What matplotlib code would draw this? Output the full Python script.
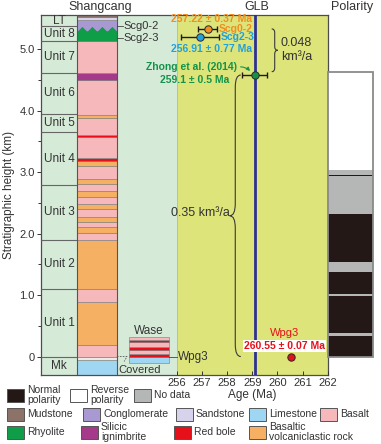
import matplotlib
matplotlib.use('Agg')
import matplotlib.pyplot as plt
import numpy as np
from matplotlib.patches import Rectangle, PathPatch
from matplotlib.path import Path

plt.rcParams['font.family'] = ['Liberation Sans', 'DejaVu Sans']

# Units of the Shangcang section (boundaries in km)
unit_names = ['Mk', 'Unit 1', 'Unit 2', 'Unit 3', 'Unit 4', 'Unit 5', 'Unit 6', 'Unit 7', 'Unit 8', 'LT']
unit_bounds = [-0.30, 0.0, 1.10, 1.90, 2.79, 3.65, 3.94, 4.62, 5.14, 5.37, 5.556]

# Shangcang lithology column
sc_base = [-0.30, -0.05, 0.00, 0.195, 0.885, 1.10, 1.898, 2.006, 2.104, 2.195, 2.277, 2.396, 2.483,
           2.59, 2.69, 2.808, 2.886, 3.10, 3.187, 3.226, 3.57, 3.61, 3.886, 3.93, 4.50, 4.618,
           5.138, 5.30, 5.47, 5.52]
sc_top = sc_base[1:] + [5.556]
sc_rock = ['Limestone', 'Covered', 'Basalt', 'Volc', 'Basalt', 'Volc', 'Basalt', 'Volc', 'Basalt',
           'Volc', 'Basalt', 'Volc', 'Basalt', 'Volc', 'Basalt', 'Volc', 'Basalt', 'Volc', 'Red bole',
           'Basalt', 'Red bole', 'Basalt', 'Volc', 'Basalt', 'Ignimbrite', 'Basalt', 'Rhyolite',
           'Conglomerate', 'Sandstone', 'Mudstone']
rhyolite_peak = 5.37
rhyolite_trough = 5.29

# sampling levels of the Scg samples in the section
scg_level = [5.37, 5.18]

# Wase column
wase_base = [-0.107, 0.0, 0.039, 0.109, 0.153, 0.24, 0.27]
wase_top = wase_base[1:] + [0.315]
wase_rock = ['Limestone', 'Red bole', 'Basalt', 'Red bole', 'Basalt', 'Red bole', 'Basalt']

# Magnetic polarity
pol_base = [0.0, 0.34, 0.385, 0.99, 1.01, 1.38, 1.54, 2.32, 2.93, 2.955, 3.036]
pol_top = pol_base[1:] + [4.634]
pol_type = ['Normal', 'No data', 'Normal', 'No data', 'Normal', 'No data', 'Normal', 'No data',
            'Normal', 'No data', 'Reverse']

# Ages
sample_names = ['Scg0-2', 'Scg2-3', 'Zhong et al. (2014)', 'Wpg3']
sample_age = [257.22, 256.91, 259.1, 260.55]
sample_err = [0.37, 0.77, 0.5, 0.07]
sample_height = [5.33, 5.19, 4.58, 0.0]
sample_color = ['#f18d21', '#22a0dc', '#13934a', '#e60f1a']
glb_age = 259.1
rate_labels = ['0.048\nkm³/a', '0.35 km³/a']

rock_colors = {
    'Mudstone': '#8c7268', 'Conglomerate': '#a999d2', 'Sandstone': '#d8d3ec',
    'Limestone': '#9fd7f3', 'Basalt': '#f6b8ba', 'Rhyolite': '#0f9d48',
    'Ignimbrite': '#a63a8a', 'Red bole': '#e6101b', 'Volc': '#f6b063', 'Covered': '#e9ece6',
}
pol_colors = {'Normal': '#231815', 'Reverse': 'white', 'No data': '#b5b6b6'}

W, H = 381, 444
fig = plt.figure(figsize=(W / 100, H / 100), dpi=100)


def px_box(x0, y0, x1, y1):
    return [x0 / W, 1 - y1 / H, (x1 - x0) / W, (y1 - y0) / H]


ylim = (-0.30, 5.556)
ax = fig.add_axes(px_box(41, 15, 327.7, 375))
ax_age = fig.add_axes(px_box(177, 15, 327.7, 375), facecolor='none')
ax_pol = fig.add_axes(px_box(327.7, 15, 372.7, 375))

# column layout (fractions of the main frame)
unit_x0, lith_x0, lith_w = 0.0, 0.1254, 0.1394
wase_x0 = 0.3077
yellow_x0 = 0.4739

ax.set_xlim(0, 1)
ax.set_ylim(*ylim)
ax.set_facecolor('#d6ead8')
ax.axvspan(yellow_x0, 1, color='#dde47a', lw=0, zorder=0)
ax.axvline(yellow_x0, color='#b4b8b0', lw=0.6, zorder=0.5)

# lithology
lith_h = np.array(sc_top) - np.array(sc_base)
ax.bar(lith_x0, lith_h, width=lith_w, bottom=sc_base, align='edge',
       color=[rock_colors[r] for r in sc_rock], edgecolor='#7a7a7a', linewidth=0.4, zorder=2)
# wavy rhyolite / conglomerate contact
zx = np.linspace(lith_x0, lith_x0 + lith_w, 9)
zy = np.where(np.arange(9) % 2 == 1, rhyolite_peak, rhyolite_trough)
ax.fill_between(zx, sc_base[sc_rock.index('Rhyolite')] + 0.1, zy, color=rock_colors['Rhyolite'],
                lw=0, zorder=2.5)

# units
ax.hlines(unit_bounds[1:-1], unit_x0, lith_x0, color='#666666', lw=0.8, zorder=3)
for i, name in enumerate(unit_names):
    ax.text(lith_x0 / 2, (unit_bounds[i] + unit_bounds[i + 1]) / 2, name,
            ha='center', va='center', fontsize=8.5, color='#333333', zorder=4)
ax.axvline(lith_x0, color='#555555', lw=0.8, zorder=3)
ax.axvline(lith_x0 + lith_w, color='#555555', lw=0.8, zorder=3)

# Scg sample labels
for name, h in zip(sample_names[:2], scg_level):
    ax.plot([lith_x0 + lith_w, lith_x0 + lith_w + 0.02], [h, h], color='#444444', lw=0.6, zorder=3)
    ax.text(lith_x0 + lith_w + 0.023, h, name, ha='left', va='center', fontsize=8,
            color='#333333', zorder=4)

# Wase column
wase_h = np.array(wase_top) - np.array(wase_base)
ax.bar(wase_x0, wase_h, width=lith_w, bottom=wase_base, align='edge',
       color=[rock_colors[r] for r in wase_rock], edgecolor='#7a7a7a', linewidth=0.4, zorder=2)
ax.text(wase_x0 + lith_w / 2, wase_top[-1] + 0.1, 'Wase', ha='center', va='center',
        fontsize=8.5, color='#333333')
ax.plot([wase_x0 + lith_w, yellow_x0], [sample_height[3]] * 2, color='#444444', lw=0.6, zorder=3)
ax.text(yellow_x0 + 0.004, sample_height[3], sample_names[3], ha='left', va='center',
        fontsize=8.5, color='#333333', zorder=4)
ax.plot([lith_x0 + lith_w, 0.30, 0.29], [0.0, 0.0, -0.08], color='#555555', lw=0.6,
        ls=(0, (2, 1.5)), zorder=3)
ax.text(0.345, -0.215, 'Covered', ha='center', va='center', fontsize=8, color='#333333')

# frame and y axis
for s in ax.spines.values():
    s.set_color('#4d4d4d')
    s.set_linewidth(0.9)
ax.set_xticks([])
ax.set_yticks([0, 1, 2, 3, 4, 5])
ax.set_yticklabels(['0', '1.0', '2.0', '3.0', '4.0', '5.0'])
ax.set_yticks(np.arange(0.5, 5.0, 1.0), minor=True)
ax.tick_params(axis='y', which='both', direction='out', length=3, width=0.7, pad=1.5,
               labelsize=8, colors='#333333')
ax.tick_params(axis='y', which='minor', length=2.5)
ax.set_ylabel('Stratigraphic height (km)', fontsize=8.5, color='#333333', labelpad=3)

# age panel
ax_age.set_xlim(256, 262)
ax_age.set_ylim(*ylim)
ax_age.set_yticks([])
ax_age.set_xticks(range(256, 263))
ax_age.tick_params(axis='x', direction='in', length=3, width=0.7, pad=2, labelsize=8, colors='#333333')
for s in ax_age.spines.values():
    s.set_visible(False)
ax_age.set_xlabel('Age (Ma)', fontsize=8.5, color='#333333', labelpad=1)
ax_age.axvline(glb_age, color='#2e3192', lw=2, zorder=2)

ax_age.errorbar(sample_age, sample_height, xerr=sample_err, fmt='none', ecolor='#231815',
                elinewidth=1.0, capsize=2.5, capthick=1.0, zorder=3)
for a, h, c in zip(sample_age, sample_height, sample_color):
    ax_age.plot(a, h, 'o', ms=5.3, mfc=c, mec='#2a2a2a', mew=0.7, zorder=4)

bold = dict(fontsize=7.5, fontweight='bold', va='center', clip_on=False)
ax_age.text(257.38, 5.485, f'{sample_age[0]:.2f} ± {sample_err[0]:.2f} Ma', color=sample_color[0],
            ha='center', **bold)
ax_age.text(sample_age[0] + sample_err[0] + 0.06, sample_height[0], sample_names[0],
            color=sample_color[0], ha='left', **bold)
ax_age.text(sample_age[1] + sample_err[1] + 0.06, sample_height[1], sample_names[1],
            color=sample_color[1], ha='left', **bold)
ax_age.text(257.38, 5.01, f'{sample_age[1]:.2f} ± {sample_err[1]:.2f} Ma', color=sample_color[1],
            ha='center', **bold)
ax_age.text(258.38, 4.71, sample_names[2], color=sample_color[2], ha='right', **bold)
ax_age.text(258.07, 4.50, f'{sample_age[2]:.1f} ± {sample_err[2]:.1f} Ma', color=sample_color[2],
            ha='right', **bold)
ax_age.annotate('', xy=(sample_age[2] - 0.12, sample_height[2] + 0.03), xytext=(258.42, 4.71),
                arrowprops=dict(arrowstyle='-|>', color=sample_color[2], lw=0.8,
                                mutation_scale=5, connectionstyle='arc3,rad=-0.3'))
ax_age.text(260.3, 0.385, sample_names[3], color=sample_color[3], ha='center', fontsize=8,
            va='center')
ax_age.text(260.27, 0.172, f'{sample_age[3]:.2f} ± {sample_err[3]:.2f} Ma', color=sample_color[3],
            ha='center', va='center', fontsize=7.5, fontweight='bold',
            bbox=dict(facecolor='white', edgecolor='none', pad=0.6))


def brace(axis, x, y0, y1, depth, h, side):
    ym = (y0 + y1) / 2
    xe, xt = x - side * depth, x + side * depth
    verts = [(xe, y0), (x, y0), (x, y0 + h), (x, ym - h), (x, ym), (xt, ym),
             (x, ym), (x, ym + h), (x, y1 - h), (x, y1), (xe, y1)]
    codes = [Path.MOVETO, Path.CURVE3, Path.CURVE3, Path.LINETO, Path.CURVE3, Path.CURVE3,
             Path.CURVE3, Path.CURVE3, Path.LINETO, Path.CURVE3, Path.CURVE3]
    axis.add_patch(PathPatch(Path(verts, codes), fill=False, ec='#3a3a3a', lw=0.8, zorder=3))


brace(ax_age, 259.89, 4.634, sample_height[0], 0.12, 0.06, 1)
ax_age.text(260.13, 4.99, rate_labels[0], ha='left', va='center', fontsize=9,
            color='#333333', linespacing=1.25)
brace(ax_age, 258.32, sample_height[3], sample_height[2], 0.22, 0.2, -1)
ax_age.text(258.12, 2.33, rate_labels[1], ha='right', va='center', fontsize=9, color='#333333')

# polarity column
ax_pol.set_xlim(0, 1)
ax_pol.set_ylim(*ylim)
ax_pol.axis('off')
pol_h = np.array(pol_top) - np.array(pol_base)
ax_pol.bar(0, pol_h, width=1, bottom=pol_base, align='edge',
           color=[pol_colors[p] for p in pol_type], edgecolor='none')
ax_pol.add_patch(Rectangle((0, pol_base[0]), 1, pol_top[-1] - pol_base[0], fill=False,
                           ec='#8a8a8a', lw=1.3, clip_on=False))

# titles
fig.text(100 / W, 1 - 7 / H, 'Shangcang', ha='center', va='center', fontsize=9, color='#333333')
fig.text(257 / W, 1 - 7 / H, 'GLB', ha='center', va='center', fontsize=9, color='#333333')
fig.text(352 / W, 1 - 7 / H, 'Polarity', ha='center', va='center', fontsize=9, color='#333333')

# legend
legend_labels = [['Normal\npolarity', 'Reverse\npolarity', 'No data'],
                 ['Mudstone', 'Conglomerate', 'Sandstone', 'Limestone', 'Basalt'],
                 ['Rhyolite', 'Silicic\nignimbrite', 'Red bole', 'Basaltic\nvolcaniclastic rock']]
legend_keys = [[pol_colors['Normal'], pol_colors['Reverse'], pol_colors['No data']],
               [rock_colors[k] for k in ['Mudstone', 'Conglomerate', 'Sandstone', 'Limestone', 'Basalt']],
               [rock_colors[k] for k in ['Rhyolite', 'Ignimbrite', 'Red bole', 'Volc']]]
legend_x = [[7, 70, 134], [7, 83, 176, 249, 320], [7, 81, 174, 249]]
legend_y = [395, 414, 432]
for labels, cols, xs, y in zip(legend_labels, legend_keys, legend_x, legend_y):
    for lab, c, x in zip(labels, cols, xs):
        fig.add_artist(Rectangle((x / W, 1 - (y + 6.5) / H), 17 / W, 13 / H,
                                 transform=fig.transFigure, facecolor=c, edgecolor='#555555', lw=0.7))
        fig.text((x + 20) / W, 1 - y / H, lab, ha='left', va='center', fontsize=7.5,
                 color='#333333', linespacing=0.95)

fig.savefig('out.png', dpi=100)
